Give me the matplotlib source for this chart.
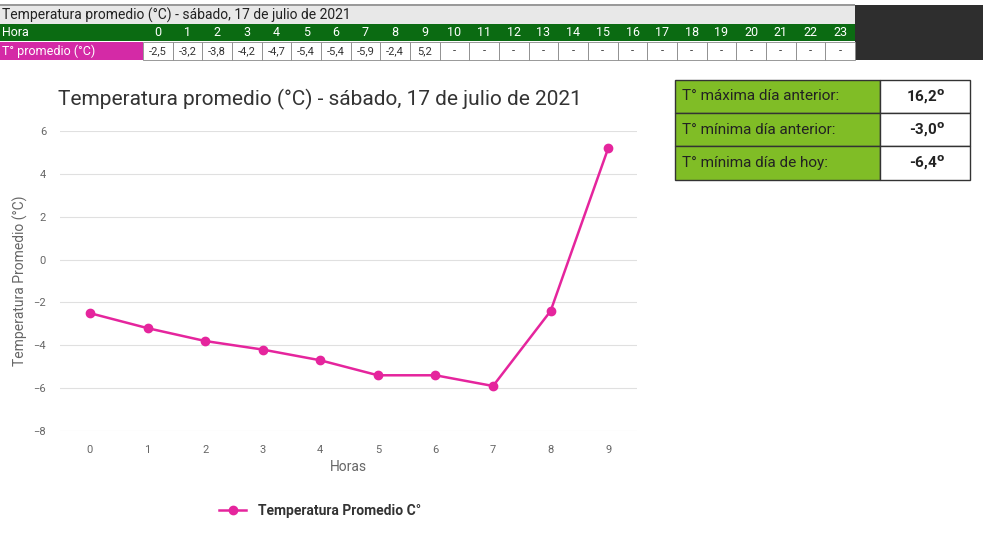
import matplotlib
matplotlib.use("Agg")
import matplotlib.pyplot as plt
from matplotlib.patches import Rectangle

hours = list(range(24))
temps = [-2.5, -3.2, -3.8, -4.2, -4.7, -5.4, -5.4, -5.9, -2.4, 5.2]
temp_labels = ["-2,5", "-3,2", "-3,8", "-4,2", "-4,7", "-5,4", "-5,4", "-5,9", "-2,4", "5,2"] + ["-"] * 14
side_labels = ["T° máxima día anterior:", "T° mínima día anterior:", "T° mínima día de hoy:"]
side_values = ["16,2", "-3,0", "-6,4"]
title = "Temperatura promedio (°C) - sábado, 17 de julio de 2021"

W, H = 983, 555
fig = plt.figure(figsize=(W / 100, H / 100), dpi=100)
fig.patch.set_facecolor("white")
plt.rcParams['font.family'] = ['Roboto', 'DejaVu Sans']

def rect(x0, y0, x1, y1, fc, ec="none", lw=0.8):
    fig.patches.append(Rectangle((x0 / W, 1 - y1 / H), (x1 - x0) / W, (y1 - y0) / H,
                                 transform=fig.transFigure, facecolor=fc, edgecolor=ec, lw=lw))

def txt(x, y, s, **kw):
    fig.text(x / W, 1 - y / H, s, **kw)

# top table
green = "#0b6b12"
pink = "#d42aa6"
rect(0, 6, 855, 24, "#e8e8e8")
rect(0, 4, 855, 6, "#9a9a9a")
rect(855, 5, 983, 60, "#2e2e2e")
txt(2, 15, title, fontsize=10, va="center", color="#222222")
rect(0, 24, 855, 41, green)
txt(2, 32.5, "Hora", fontsize=9, va="center", color="white")
rect(0, 42, 143, 60, pink)
txt(2, 51, "T° promedio (°C)", fontsize=9, va="center", color="white")
cw = (855 - 143) / 24
for i, h in enumerate(hours):
    x0 = 143 + i * cw
    txt(x0 + cw / 2, 32.5, str(h), fontsize=9, va="center", ha="center", color="white")
    rect(x0, 42, x0 + cw, 60, "white", ec="#888888", lw=0.6)
    txt(x0 + cw / 2, 51, temp_labels[i], fontsize=8, va="center", ha="center", color="#333333")

# chart
ax = fig.add_axes([60 / W, 1 - 431 / H, 577 / W, 300 / H])
x = list(range(len(temps)))
ax.plot(x, temps, color="#e5259d", lw=1.8, marker="o", ms=6, label="Temperatura Promedio C°")
ax.set_xlim(-0.52, 9.5)
ax.set_ylim(-8, 6)
ax.set_yticks(range(-8, 7, 2))
ax.set_xticks(x)
ax.grid(axis="y", color="#e0e0e0", lw=0.8)
for s in ax.spines.values():
    s.set_visible(False)
ax.tick_params(length=0, labelsize=8, colors="#666666", pad=10)
ax.set_xlabel("Horas", fontsize=10, color="#666666")
ax.set_ylabel("Temperatura Promedio (°C)", fontsize=10, color="#666666")
txt(320, 99, title, fontsize=15, ha="center", va="center", color="#333333")
ax.legend(loc="upper center", bbox_to_anchor=(0.45, -0.2), frameon=False,
          prop={"size": 10, "weight": "bold"}, labelcolor="#333333")

# side table
lg = "#80bd26"
rows = [(80, 113), (113, 146), (146, 180)]
for (y0, y1), lab, val in zip(rows, side_labels, side_values):
    rect(675, y0, 880, y1, lg, ec="#333333", lw=1)
    rect(880, y0, 970, y1, "white", ec="#333333", lw=1)
    txt(682, (y0 + y1) / 2, lab, fontsize=11, va="center", color="#222222")
    txt(945, (y0 + y1) / 2, val + "$^{\\mathbf{o}}$", fontsize=11, weight="bold",
        va="center", ha="right", color="#222222")

fig.savefig("out.png", dpi=100)
